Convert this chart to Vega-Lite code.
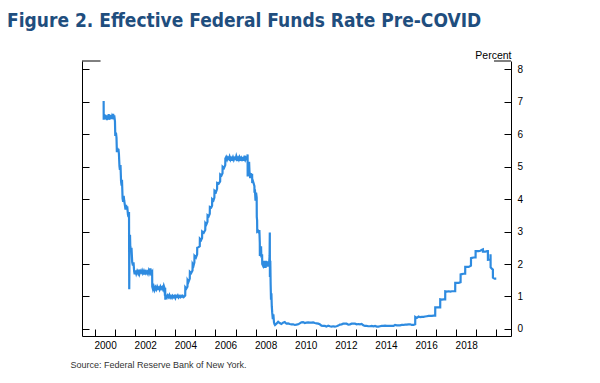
{
"$schema": "https://vega.github.io/schema/vega-lite/v6.json",
"width": 429, "height": 275,
"autosize": {"type": "none"},
"padding": {"left": 82, "top": 61, "right": 89, "bottom": 47},
"background": "white",
"title": {"text": "Figure 2. Effective Federal Funds Rate Pre-COVID", "anchor": "start", "frame": "group", "dx": -75, "offset": 19, "font": "'Liberation Sans Narrow', 'DejaVu Sans Condensed', Roboto, sans-serif", "fontSize": 19, "fontWeight": "bold", "color": "#1f4e7e"},
"config": {"view": {"stroke": null}, "axis": {"grid": false, "domainColor": "black", "tickColor": "black", "labelColor": "black", "labelFont": "Liberation Sans", "labelFontSize": 10, "titleFont": "Liberation Sans"}},
"datasets": {
"effr": [
{"d":"2000-06-05","r":7.03},{"d":"2000-06-06","r":6.45},{"d":"2000-06-15","r":6.62},{"d":"2000-06-25","r":6.48},{"d":"2000-07-05","r":6.60},{"d":"2000-07-15","r":6.46},{"d":"2000-07-25","r":6.55},{"d":"2000-08-05","r":6.44},{"d":"2000-08-15","r":6.58},{"d":"2000-08-25","r":6.49},{"d":"2000-09-05","r":6.62},{"d":"2000-09-15","r":6.45},{"d":"2000-09-25","r":6.55},{"d":"2000-10-05","r":6.48},{"d":"2000-10-15","r":6.60},{"d":"2000-10-25","r":6.47},{"d":"2000-11-05","r":6.55},{"d":"2000-11-15","r":6.50},{"d":"2000-11-25","r":6.63},{"d":"2000-12-05","r":6.46},{"d":"2000-12-15","r":6.58},{"d":"2000-12-28","r":6.40},
{"d":"2001-01-03","r":5.95},{"d":"2001-01-15","r":6.05},{"d":"2001-01-25","r":5.90},{"d":"2001-02-01","r":5.45},{"d":"2001-02-10","r":5.58},{"d":"2001-02-20","r":5.48},{"d":"2001-03-01","r":5.55},{"d":"2001-03-10","r":5.40},{"d":"2001-03-20","r":5.02},{"d":"2001-03-28","r":4.90},{"d":"2001-04-08","r":5.05},{"d":"2001-04-18","r":4.55},{"d":"2001-04-28","r":4.42},{"d":"2001-05-05","r":4.60},{"d":"2001-05-16","r":4.02},{"d":"2001-05-26","r":3.92},{"d":"2001-06-05","r":4.10},{"d":"2001-06-15","r":3.95},{"d":"2001-06-28","r":3.80},{"d":"2001-07-08","r":3.68},{"d":"2001-07-18","r":3.82},{"d":"2001-07-28","r":3.70},{"d":"2001-08-08","r":3.78},{"d":"2001-08-22","r":3.52},{"d":"2001-09-01","r":3.45},{"d":"2001-09-10","r":3.60},{"d":"2001-09-14","r":1.22},{"d":"2001-09-20","r":2.75},{"d":"2001-09-28","r":2.90},{"d":"2001-10-03","r":2.55},{"d":"2001-10-15","r":2.40},{"d":"2001-10-25","r":2.50},{"d":"2001-11-07","r":2.05},{"d":"2001-11-20","r":1.95},{"d":"2001-12-01","r":2.05},{"d":"2001-12-12","r":1.78},{"d":"2001-12-22","r":1.68},
{"d":"2002-01-05","r":1.80},{"d":"2002-01-20","r":1.70},{"d":"2002-02-05","r":1.78},{"d":"2002-02-20","r":1.72},{"d":"2002-03-05","r":1.82},{"d":"2002-03-20","r":1.70},{"d":"2002-04-05","r":1.78},{"d":"2002-04-20","r":1.74},{"d":"2002-05-05","r":1.80},{"d":"2002-05-20","r":1.72},{"d":"2002-06-05","r":1.78},{"d":"2002-06-20","r":1.68},{"d":"2002-07-05","r":1.82},{"d":"2002-07-20","r":1.72},{"d":"2002-08-05","r":1.76},{"d":"2002-08-20","r":1.70},{"d":"2002-09-05","r":1.80},{"d":"2002-09-20","r":1.73},{"d":"2002-10-05","r":1.86},{"d":"2002-10-20","r":1.72},{"d":"2002-11-05","r":1.76},{"d":"2002-11-07","r":1.30},{"d":"2002-11-20","r":1.22},{"d":"2002-12-05","r":1.30},{"d":"2002-12-20","r":1.20},
{"d":"2003-01-05","r":1.28},{"d":"2003-01-20","r":1.22},{"d":"2003-02-05","r":1.30},{"d":"2003-02-20","r":1.24},{"d":"2003-03-05","r":1.27},{"d":"2003-03-20","r":1.21},{"d":"2003-04-05","r":1.30},{"d":"2003-04-20","r":1.24},{"d":"2003-05-05","r":1.28},{"d":"2003-05-20","r":1.22},{"d":"2003-06-05","r":1.33},{"d":"2003-06-20","r":1.25},{"d":"2003-06-26","r":1.02},{"d":"2003-06-30","r":1.27},{"d":"2003-07-03","r":0.90},{"d":"2003-07-15","r":1.02},{"d":"2003-08-01","r":0.97},{"d":"2003-08-15","r":1.03},{"d":"2003-09-01","r":0.98},{"d":"2003-09-15","r":1.04},{"d":"2003-10-01","r":0.97},{"d":"2003-10-15","r":1.01},{"d":"2003-11-01","r":0.96},{"d":"2003-11-15","r":1.02},{"d":"2003-12-01","r":0.98},{"d":"2003-12-15","r":1.01},
{"d":"2004-01-01","r":0.95},{"d":"2004-01-15","r":1.02},{"d":"2004-02-01","r":0.99},{"d":"2004-02-15","r":1.03},{"d":"2004-03-01","r":0.97},{"d":"2004-03-15","r":1.01},{"d":"2004-04-01","r":0.98},{"d":"2004-04-15","r":1.02},{"d":"2004-05-01","r":0.99},{"d":"2004-05-15","r":1.02},{"d":"2004-06-01","r":0.98},{"d":"2004-06-29","r":1.03},{"d":"2004-07-01","r":1.28},{"d":"2004-07-20","r":1.24},{"d":"2004-08-09","r":1.30},{"d":"2004-08-11","r":1.50},{"d":"2004-08-28","r":1.45},{"d":"2004-09-20","r":1.55},{"d":"2004-09-22","r":1.76},{"d":"2004-10-15","r":1.72},{"d":"2004-11-09","r":1.80},{"d":"2004-11-11","r":2.00},{"d":"2004-11-28","r":1.95},{"d":"2004-12-13","r":2.05},{"d":"2004-12-15","r":2.25},
{"d":"2005-01-10","r":2.20},{"d":"2005-02-01","r":2.30},{"d":"2005-02-03","r":2.50},{"d":"2005-03-01","r":2.52},{"d":"2005-03-21","r":2.55},{"d":"2005-03-23","r":2.78},{"d":"2005-04-15","r":2.74},{"d":"2005-05-02","r":2.80},{"d":"2005-05-04","r":3.00},{"d":"2005-06-01","r":2.96},{"d":"2005-06-29","r":3.05},{"d":"2005-07-01","r":3.26},{"d":"2005-07-20","r":3.22},{"d":"2005-08-08","r":3.30},{"d":"2005-08-10","r":3.50},{"d":"2005-08-30","r":3.47},{"d":"2005-09-19","r":3.55},{"d":"2005-09-21","r":3.76},{"d":"2005-10-15","r":3.74},{"d":"2005-10-31","r":3.80},{"d":"2005-11-02","r":4.00},{"d":"2005-11-25","r":3.96},{"d":"2005-12-12","r":4.05},{"d":"2005-12-14","r":4.26},
{"d":"2006-01-10","r":4.22},{"d":"2006-01-30","r":4.32},{"d":"2006-02-01","r":4.50},{"d":"2006-03-01","r":4.48},{"d":"2006-03-27","r":4.55},{"d":"2006-03-29","r":4.76},{"d":"2006-04-20","r":4.73},{"d":"2006-05-09","r":4.80},{"d":"2006-05-11","r":5.00},{"d":"2006-06-05","r":4.96},{"d":"2006-06-28","r":5.05},{"d":"2006-06-30","r":5.25},{"d":"2006-07-15","r":5.30},{"d":"2006-08-01","r":5.22},{"d":"2006-08-15","r":5.28},{"d":"2006-09-01","r":5.24},{"d":"2006-09-15","r":5.31},{"d":"2006-10-01","r":5.22},{"d":"2006-10-15","r":5.27},{"d":"2006-11-01","r":5.23},{"d":"2006-11-15","r":5.29},{"d":"2006-12-01","r":5.21},{"d":"2006-12-15","r":5.27},
{"d":"2007-01-01","r":5.24},{"d":"2007-01-15","r":5.33},{"d":"2007-02-01","r":5.23},{"d":"2007-02-15","r":5.27},{"d":"2007-03-01","r":5.22},{"d":"2007-03-15","r":5.30},{"d":"2007-04-01","r":5.24},{"d":"2007-04-15","r":5.28},{"d":"2007-05-01","r":5.22},{"d":"2007-05-15","r":5.26},{"d":"2007-06-01","r":5.23},{"d":"2007-06-15","r":5.34},{"d":"2007-07-01","r":5.22},{"d":"2007-07-15","r":5.27},{"d":"2007-08-01","r":5.24},{"d":"2007-08-09","r":5.38},{"d":"2007-08-10","r":4.70},{"d":"2007-08-14","r":5.05},{"d":"2007-08-20","r":4.72},{"d":"2007-08-27","r":5.00},{"d":"2007-09-05","r":5.15},{"d":"2007-09-12","r":4.85},{"d":"2007-09-18","r":4.78},{"d":"2007-09-25","r":4.65},{"d":"2007-10-05","r":4.80},{"d":"2007-10-15","r":4.70},{"d":"2007-10-30","r":4.78},{"d":"2007-11-01","r":4.50},{"d":"2007-11-15","r":4.55},{"d":"2007-11-28","r":4.48},{"d":"2007-12-11","r":4.40},{"d":"2007-12-12","r":4.20},{"d":"2007-12-20","r":4.30},{"d":"2007-12-31","r":3.95},
{"d":"2008-01-10","r":4.20},{"d":"2008-01-21","r":4.05},{"d":"2008-01-23","r":3.45},{"d":"2008-01-29","r":3.35},{"d":"2008-01-31","r":3.00},{"d":"2008-02-15","r":3.02},{"d":"2008-03-01","r":2.95},{"d":"2008-03-10","r":3.05},{"d":"2008-03-18","r":2.65},{"d":"2008-03-19","r":2.25},{"d":"2008-04-01","r":2.35},{"d":"2008-04-10","r":2.55},{"d":"2008-04-15","r":2.20},{"d":"2008-04-29","r":2.30},{"d":"2008-05-01","r":2.00},{"d":"2008-05-15","r":1.95},{"d":"2008-06-01","r":2.10},{"d":"2008-06-10","r":1.88},{"d":"2008-06-20","r":2.05},{"d":"2008-07-01","r":1.88},{"d":"2008-07-10","r":2.10},{"d":"2008-07-20","r":1.95},{"d":"2008-08-01","r":2.05},{"d":"2008-08-10","r":1.92},{"d":"2008-08-20","r":2.08},{"d":"2008-09-01","r":1.96},{"d":"2008-09-12","r":2.25},{"d":"2008-09-16","r":2.97},{"d":"2008-09-18","r":1.60},{"d":"2008-09-25","r":2.10},{"d":"2008-10-01","r":1.40},{"d":"2008-10-08","r":0.90},{"d":"2008-10-15","r":1.10},{"d":"2008-10-22","r":0.70},{"d":"2008-10-30","r":0.50},{"d":"2008-11-10","r":0.30},{"d":"2008-11-20","r":0.45},{"d":"2008-12-01","r":0.20},{"d":"2008-12-10","r":0.15},{"d":"2008-12-20","r":0.12},
{"d":"2009-01-15","r":0.16},{"d":"2009-02-15","r":0.22},{"d":"2009-03-15","r":0.18},{"d":"2009-04-15","r":0.15},{"d":"2009-05-15","r":0.19},{"d":"2009-06-15","r":0.21},{"d":"2009-07-15","r":0.16},{"d":"2009-08-15","r":0.17},{"d":"2009-09-15","r":0.15},{"d":"2009-10-15","r":0.14},{"d":"2009-11-15","r":0.14},{"d":"2009-12-15","r":0.12},
{"d":"2010-01-15","r":0.13},{"d":"2010-02-15","r":0.14},{"d":"2010-03-15","r":0.17},{"d":"2010-04-15","r":0.20},{"d":"2010-05-15","r":0.21},{"d":"2010-06-15","r":0.18},{"d":"2010-07-15","r":0.19},{"d":"2010-08-15","r":0.20},{"d":"2010-09-15","r":0.19},{"d":"2010-10-15","r":0.19},{"d":"2010-11-15","r":0.20},{"d":"2010-12-15","r":0.18},
{"d":"2011-01-15","r":0.17},{"d":"2011-02-15","r":0.16},{"d":"2011-03-15","r":0.14},{"d":"2011-04-15","r":0.10},{"d":"2011-05-15","r":0.09},{"d":"2011-06-15","r":0.09},{"d":"2011-07-15","r":0.07},{"d":"2011-08-15","r":0.10},{"d":"2011-09-15","r":0.08},{"d":"2011-10-15","r":0.07},{"d":"2011-11-15","r":0.08},{"d":"2011-12-15","r":0.07},
{"d":"2012-01-15","r":0.08},{"d":"2012-02-15","r":0.10},{"d":"2012-03-15","r":0.13},{"d":"2012-04-15","r":0.14},{"d":"2012-05-15","r":0.16},{"d":"2012-06-15","r":0.16},{"d":"2012-07-15","r":0.16},{"d":"2012-08-15","r":0.13},{"d":"2012-09-15","r":0.14},{"d":"2012-10-15","r":0.16},{"d":"2012-11-15","r":0.16},{"d":"2012-12-15","r":0.16},
{"d":"2013-01-15","r":0.14},{"d":"2013-02-15","r":0.15},{"d":"2013-03-15","r":0.14},{"d":"2013-04-15","r":0.15},{"d":"2013-05-15","r":0.11},{"d":"2013-06-15","r":0.09},{"d":"2013-07-15","r":0.09},{"d":"2013-08-15","r":0.08},{"d":"2013-09-15","r":0.08},{"d":"2013-10-15","r":0.09},{"d":"2013-11-15","r":0.08},{"d":"2013-12-15","r":0.09},
{"d":"2014-01-15","r":0.07},{"d":"2014-02-15","r":0.07},{"d":"2014-03-15","r":0.08},{"d":"2014-04-15","r":0.09},{"d":"2014-05-15","r":0.09},{"d":"2014-06-15","r":0.10},{"d":"2014-07-15","r":0.09},{"d":"2014-08-15","r":0.09},{"d":"2014-09-15","r":0.09},{"d":"2014-10-15","r":0.09},{"d":"2014-11-15","r":0.09},{"d":"2014-12-15","r":0.12},
{"d":"2015-01-15","r":0.11},{"d":"2015-02-15","r":0.11},{"d":"2015-03-15","r":0.11},{"d":"2015-04-15","r":0.12},{"d":"2015-05-15","r":0.12},{"d":"2015-06-15","r":0.13},{"d":"2015-07-15","r":0.13},{"d":"2015-08-15","r":0.14},{"d":"2015-09-15","r":0.14},{"d":"2015-10-15","r":0.12},{"d":"2015-11-15","r":0.12},{"d":"2015-12-16","r":0.14},{"d":"2015-12-17","r":0.37},
{"d":"2016-01-15","r":0.34},{"d":"2016-02-15","r":0.38},{"d":"2016-03-15","r":0.36},{"d":"2016-04-15","r":0.37},{"d":"2016-05-15","r":0.37},{"d":"2016-06-15","r":0.38},{"d":"2016-07-15","r":0.39},{"d":"2016-08-15","r":0.40},{"d":"2016-09-15","r":0.40},{"d":"2016-10-15","r":0.40},{"d":"2016-11-15","r":0.41},{"d":"2016-12-14","r":0.41},{"d":"2016-12-15","r":0.66},
{"d":"2017-01-15","r":0.66},{"d":"2017-02-15","r":0.66},{"d":"2017-03-15","r":0.66},{"d":"2017-03-16","r":0.91},{"d":"2017-04-15","r":0.90},{"d":"2017-05-15","r":0.91},{"d":"2017-06-14","r":0.91},{"d":"2017-06-15","r":1.16},{"d":"2017-07-15","r":1.15},{"d":"2017-08-15","r":1.16},{"d":"2017-09-15","r":1.15},{"d":"2017-10-15","r":1.16},{"d":"2017-11-15","r":1.16},{"d":"2017-12-13","r":1.16},{"d":"2017-12-14","r":1.42},
{"d":"2018-01-15","r":1.42},{"d":"2018-02-15","r":1.42},{"d":"2018-03-21","r":1.44},{"d":"2018-03-22","r":1.68},{"d":"2018-04-15","r":1.69},{"d":"2018-05-15","r":1.70},{"d":"2018-06-13","r":1.70},{"d":"2018-06-14","r":1.91},{"d":"2018-07-15","r":1.91},{"d":"2018-08-15","r":1.91},{"d":"2018-09-26","r":1.95},{"d":"2018-09-27","r":2.18},{"d":"2018-10-15","r":2.19},{"d":"2018-11-15","r":2.20},{"d":"2018-12-19","r":2.20},{"d":"2018-12-20","r":2.40},
{"d":"2019-01-15","r":2.40},{"d":"2019-02-15","r":2.40},{"d":"2019-03-15","r":2.41},{"d":"2019-04-15","r":2.44},{"d":"2019-05-01","r":2.45},{"d":"2019-05-02","r":2.38},{"d":"2019-06-15","r":2.38},{"d":"2019-07-15","r":2.40},{"d":"2019-07-31","r":2.40},{"d":"2019-08-01","r":2.13},{"d":"2019-09-16","r":2.14},{"d":"2019-09-17","r":2.30},{"d":"2019-09-18","r":2.25},{"d":"2019-09-19","r":1.90},{"d":"2019-10-15","r":1.85},{"d":"2019-10-30","r":1.83},{"d":"2019-10-31","r":1.58},{"d":"2019-11-30","r":1.55},{"d":"2019-12-31","r":1.55}
],
"frame": [
{"a":"1999-05-08","b":"2000-04-10","t":8.26},
{"a":"2019-11-20","b":"2020-09-24","t":8.26}
]
},
"layer": [
{
"data": {"name": "effr"},
"mark": {"type": "line", "color": "#2e8be0", "strokeWidth": 2.2},
"encoding": {
"x": {"field": "d", "type": "temporal",
"scale": {"type": "utc", "domain": [{"year": 1999, "month": 5, "date": 8, "utc": true}, {"year": 2020, "month": 9, "date": 24, "utc": true}]},
"axis": {"orient": "bottom", "tickCount": {"interval": "year", "step": 1}, "tickSize": -7, "labelPadding": 11, "labelOffset": 10, "labelOverlap": false, "labelFlush": false,
"labelExpr": "utcyear(datum.value) % 2 == 0 && utcyear(datum.value) < 2020 ? '' + utcyear(datum.value) : ''",
"title": "Source: Federal Reserve Bank of New York.", "titleX": -12, "titleY": 31, "titleAlign": "left", "titleAnchor": "start", "titleBaseline": "alphabetic", "titleFontSize": 9, "titleFontWeight": "normal", "titleColor": "#333333"}},
"y": {"field": "r", "type": "quantitative",
"scale": {"domain": [-0.22, 8.26], "nice": false, "zero": false},
"axis": {"orient": "right", "values": [0,1,2,3,4,5,6,7,8], "tickSize": -7, "labelPadding": 13,
"title": "Percent", "titleAngle": 0, "titleAlign": "right", "titleBaseline": "alphabetic", "titleX": 0, "titleY": -3, "titleFontSize": 10.5, "titleFontWeight": "normal", "titleColor": "black"}}
}
},
{
"data": {"name": "frame"},
"mark": {"type": "rule", "color": "black", "strokeWidth": 1},
"encoding": {
"x": {"field": "a", "type": "temporal", "scale": {"type": "utc", "domain": [{"year": 1999, "month": 5, "date": 8, "utc": true}, {"year": 2020, "month": 9, "date": 24, "utc": true}]}},
"x2": {"field": "b"},
"y": {"field": "t", "type": "quantitative", "scale": {"domain": [-0.22, 8.26], "nice": false, "zero": false},
"axis": {"orient": "left", "values": [0,1,2,3,4,5,6,7,8], "tickSize": -7, "labels": false, "title": null}}
}
}
],
"resolve": {"axis": {"y": "independent"}}
}
